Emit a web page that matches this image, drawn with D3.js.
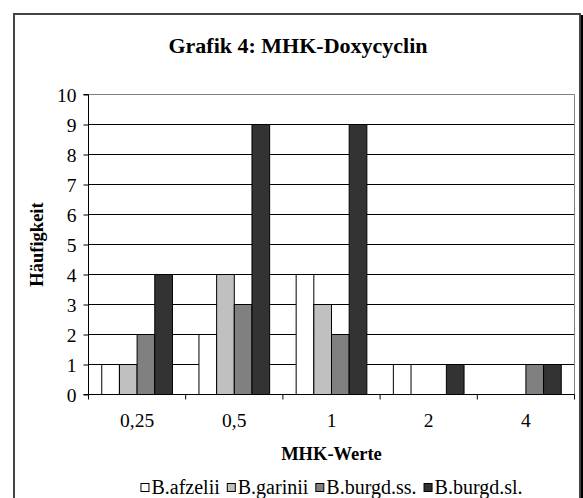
<!DOCTYPE html>
<html>
<head>
<meta charset="utf-8">
<script src="https://cdn.jsdelivr.net/npm/d3@7/dist/d3.min.js"></script>
<style>
  html, body { margin: 0; padding: 0; background: #fff; }
  svg { display: block; }
  text { font-family: "Liberation Serif", "Times New Roman", serif; fill: #000; }
</style>
</head>
<body>
<svg id="chart" width="583" height="498"></svg>
<script>
const categories = ["0,25", "0,5", "1", "2", "4"];
const seriesNames = ["B.afzelii", "B.garinii", "B.burgd.ss.", "B.burgd.sl."];
const afzelii = [1, 2, 4, 1, 0];
const garinii = [1, 4, 3, 0, 0];
const burgdSS = [2, 3, 2, 0, 1];
const burgdSL = [4, 9, 9, 1, 1];
const yTicks = [0, 1, 2, 3, 4, 5, 6, 7, 8, 9, 10];
const seriesColors = ["#ffffff", "#c0c0c0", "#808080", "#333333"];

(function () {
const values = [afzelii, garinii, burgdSS, burgdSL];
const svg = d3.select("#chart");

// outer chart border
svg.append("rect").attr("x", 14).attr("y", 14).attr("width", 566).attr("height", 520)
  .attr("fill", "#fff").attr("stroke", "#444").attr("stroke-width", 2);
svg.append("line").attr("x1", 582).attr("x2", 582).attr("y1", 15).attr("y2", 498)
  .attr("stroke", "#000").attr("stroke-width", 2);

const pLeft = 88.5, pRight = 574.5, pTop = 94.5, pBottom = 394.5;

const x0 = d3.scaleBand().domain(categories).range([pLeft, pRight]).padding(0);
const x1 = d3.scaleBand().domain(d3.range(seriesNames.length))
  .range([0, x0.bandwidth()]).paddingInner(0).paddingOuter(0.75);
const y = d3.scaleLinear().domain([0, 10]).range([pBottom, pTop]);

// gridlines
svg.append("g").selectAll("line").data(yTicks.filter(d => d > 0 && d < 10)).join("line")
  .attr("x1", pLeft).attr("x2", pRight)
  .attr("y1", d => y(d)).attr("y2", d => y(d))
  .attr("stroke", "#000").attr("stroke-width", 1);

// plot border (top & right gray)
svg.append("path")
  .attr("d", `M${pLeft},${pTop}H${pRight}V${pBottom}`)
  .attr("fill", "none").attr("stroke", "#808080").attr("stroke-width", 1);

// bars
const gBars = svg.append("g");
categories.forEach((c, ci) => {
  values.forEach((vals, si) => {
    const v = vals[ci];
    if (v <= 0) return;
    gBars.append("rect")
      .attr("x", x0(c) + x1(si))
      .attr("y", y(v))
      .attr("width", x1.bandwidth())
      .attr("height", y(0) - y(v))
      .attr("fill", seriesColors[si])
      .attr("stroke", "#000").attr("stroke-width", 1);
  });
});

// y axis
const yAxis = d3.axisLeft(y).tickValues(yTicks).tickSize(5).tickPadding(7)
  .tickFormat(d3.format("d"));
const gy = svg.append("g").attr("transform", `translate(${pLeft},0)`).call(yAxis);
gy.select(".domain").attr("stroke", "#000").attr("d", `M-5,${pTop}H0V${pBottom}H-5`);
gy.selectAll(".tick line").attr("stroke", "#000");
gy.selectAll(".tick text").style("font-family", "Liberation Serif, serif")
  .style("font-size", "19.5px").attr("fill", "#000").attr("dy", "0.34em");

// x axis (ticks at category boundaries)
svg.append("line").attr("x1", pLeft).attr("x2", pRight).attr("y1", pBottom).attr("y2", pBottom)
  .attr("stroke", "#000");
const bounds = categories.map(c => x0(c)).concat([pRight]);
svg.append("g").selectAll("line").data(bounds).join("line")
  .attr("x1", d => d).attr("x2", d => d).attr("y1", pBottom).attr("y2", pBottom + 5)
  .attr("stroke", "#000");
svg.append("g").selectAll("text").data(categories).join("text")
  .attr("x", d => x0(d) + x0.bandwidth() / 2).attr("y", 427)
  .attr("text-anchor", "middle").style("font-size", "19.5px").text(d => d);

// titles
svg.append("text").attr("x", 298).attr("y", 53).attr("text-anchor", "middle")
  .style("font-size", "22px").style("font-weight", "bold").text("Grafik 4: MHK-Doxycyclin");
svg.append("text").attr("x", (pLeft + pRight) / 2).attr("y", 460).attr("text-anchor", "middle")
  .style("font-size", "18.5px").style("font-weight", "bold").text("MHK-Werte");
svg.append("text").attr("transform", `translate(43,${(pTop + pBottom) / 2}) rotate(-90)`)
  .attr("text-anchor", "middle")
  .style("font-size", "18.5px").style("font-weight", "bold").text("Häufigkeit");

// legend
const lg = svg.append("g");
let cx = 0;
seriesNames.forEach((name, i) => {
  const g = lg.append("g").attr("transform", `translate(${cx},0)`);
  g.append("rect").attr("x", 0.5).attr("y", 483.5).attr("width", 8).attr("height", 8)
    .attr("fill", seriesColors[i]).attr("stroke", "#000");
  const t = g.append("text").attr("x", 11).attr("y", 494).style("font-size", "20px").text(name);
  const w = t.node().getComputedTextLength();
  cx += 11 + w + 7;
});
const totalW = cx - 7;
lg.attr("transform", `translate(${(pLeft + pRight) / 2 - totalW / 2},0)`);
})();
</script>
</body>
</html>
